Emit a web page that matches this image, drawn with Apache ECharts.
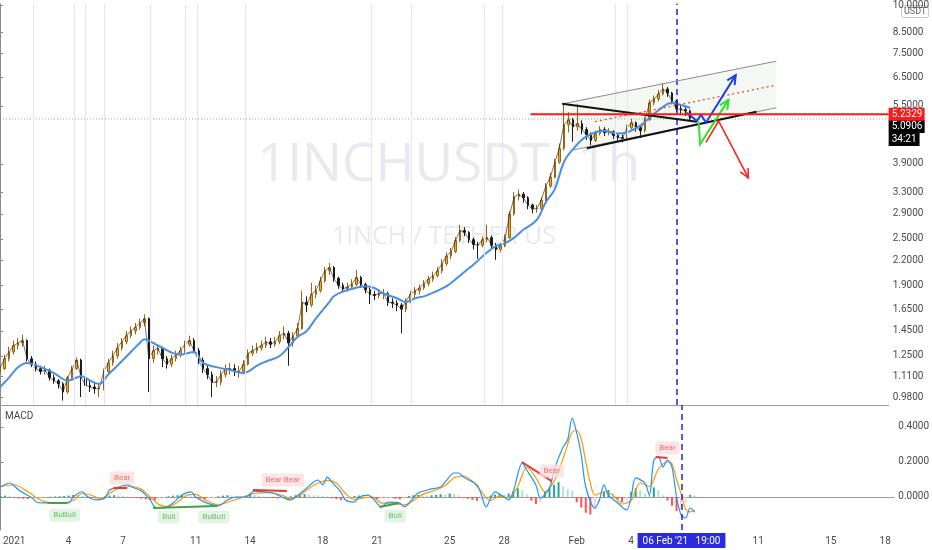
<!DOCTYPE html>
<html lang="en">
<head>
<meta charset="UTF-8">
<title>1INCHUSDT 1h</title>
<script src="https://cdn.jsdelivr.net/npm/echarts@6/dist/echarts.min.js"></script>
<style>
  html, body { margin: 0; padding: 0; background: #fff; }
  #chart { width: 932px; height: 550px; }
</style>
</head>
<body>
<div id="chart"></div>
<script>
// 6h candles, first one is 31 Dec 2020 06:00
const firstOpen = 1.13;
const closes = [1.16,1.23,1.28,1.33,1.35,1.37,1.23,1.19,1.16,1.14,
  1.15,1.10,1.08,1.06,1.01,1.10,1.16,1.22,1.10,1.05,
  1.04,1.03,1.03,1.14,1.20,1.25,1.31,1.36,1.41,1.45,
  1.48,1.52,1.56,1.23,1.29,1.31,1.23,1.19,1.23,1.26,
  1.29,1.34,1.37,1.29,1.22,1.16,1.12,1.07,1.07,1.12,
  1.16,1.16,1.14,1.14,1.19,1.27,1.29,1.31,1.33,1.36,
  1.34,1.36,1.41,1.43,1.35,1.41,1.47,1.72,1.69,1.80,
  1.84,1.95,2.07,2.11,1.98,1.90,1.86,1.88,1.91,1.99,
  1.91,1.85,1.80,1.79,1.81,1.81,1.72,1.71,1.69,1.65,
  1.73,1.80,1.84,1.87,1.92,1.97,2.01,2.07,2.16,2.26,
  2.32,2.48,2.63,2.60,2.49,2.42,2.41,2.49,2.52,2.41,
  2.35,2.40,2.52,2.90,3.21,3.26,3.19,3.06,2.99,2.99,
  3.15,3.42,3.61,3.94,4.28,4.92,5.07,4.86,4.95,4.78,
  4.64,4.48,4.67,4.78,4.70,4.72,4.62,4.56,4.54,4.83,
  4.98,4.83,4.75,5.07,5.60,5.73,5.90,6.08,5.94,5.66,
  5.41,5.38,5.34,5.0906];
const highs = [1.19,1.26,1.32,1.37,1.39,1.42,1.38,1.25,1.21,1.18,
  1.18,1.16,1.12,1.09,1.07,1.11,1.18,1.24,1.23,1.12,
  1.08,1.07,1.06,1.16,1.23,1.29,1.35,1.39,1.45,1.49,
  1.52,1.56,1.60,1.57,1.33,1.34,1.32,1.25,1.26,1.29,
  1.32,1.37,1.41,1.39,1.31,1.24,1.18,1.14,1.11,1.15,
  1.19,1.20,1.19,1.18,1.22,1.30,1.33,1.35,1.37,1.40,
  1.39,1.40,1.45,1.49,1.45,1.44,1.52,1.84,1.78,1.93,
  1.90,2.00,2.12,2.17,2.13,2.00,1.93,1.93,1.97,2.08,
  2.01,1.93,1.87,1.84,1.86,1.86,1.83,1.76,1.74,1.71,
  1.76,1.84,1.88,1.91,1.96,2.01,2.06,2.12,2.22,2.31,
  2.37,2.53,2.72,2.68,2.62,2.52,2.46,2.54,2.72,2.55,
  2.44,2.44,2.57,2.95,3.30,3.35,3.30,3.22,3.08,3.06,
  3.20,3.48,3.70,4.02,4.40,5.55,5.30,5.12,5.55,5.05,
  4.85,4.70,4.75,4.88,4.85,4.82,4.76,4.68,4.64,4.92,
  5.10,5.02,4.90,5.15,5.70,5.85,6.05,6.30,6.15,5.98,
  5.70,5.52,5.46,5.38];
const lows = [1.12,1.15,1.21,1.26,1.30,1.32,1.21,1.17,1.14,1.12,
  1.12,1.08,1.06,1.03,0.96,1.00,1.09,1.15,0.98,1.02,
  1.01,1.00,0.98,1.02,1.12,1.18,1.23,1.29,1.34,1.39,
  1.42,1.46,1.49,1.01,1.20,1.26,1.17,1.16,1.17,1.21,
  1.24,1.27,1.32,1.27,1.19,1.13,1.09,0.98,1.04,1.05,
  1.10,1.12,1.11,1.10,1.12,1.18,1.25,1.27,1.29,1.31,
  1.31,1.32,1.34,1.38,1.18,1.32,1.39,1.46,1.62,1.67,
  1.76,1.82,1.93,2.02,1.94,1.86,1.82,1.83,1.86,1.89,
  1.87,1.81,1.70,1.74,1.76,1.75,1.68,1.66,1.63,1.43,
  1.62,1.71,1.77,1.80,1.85,1.89,1.94,1.99,2.04,2.13,
  2.22,2.30,2.45,2.54,2.44,2.35,2.22,2.38,2.45,2.36,
  2.21,2.31,2.38,2.50,2.87,3.14,3.10,2.98,2.91,2.92,
  2.96,3.12,3.38,3.58,3.90,4.22,4.70,4.45,4.75,4.65,
  4.50,4.36,4.44,4.62,4.60,4.62,4.52,4.46,4.43,4.50,
  4.78,4.72,4.55,4.70,5.02,5.52,5.65,5.85,5.80,5.55,
  5.30,5.24,5.18,5.02];

// blue moving average, [candle index, price]
const maLine = [[0,1.04],[2,1.10],[4,1.17],[6,1.20],[9,1.17],[12,1.13],[15,1.08],[17,1.10],[18,1.11],
  [20,1.08],[22,1.06],[24,1.12],[26,1.18],[29,1.28],[31,1.35],[32,1.38],[34,1.35],[35,1.33],
  [40,1.26],[43,1.28],[45,1.20],[48,1.17],[51,1.15],[54,1.13],[55,1.14],[57,1.18],[59,1.21],
  [62,1.25],[64,1.32],[66,1.40],[68,1.45],[70,1.56],[73,1.72],[74,1.78],[76,1.83],[78,1.86],
  [81,1.89],[83,1.87],[85,1.81],[88,1.76],[90,1.72],[92,1.76],[94,1.78],[97,1.84],[99,1.89],
  [101,1.97],[103,2.06],[105,2.15],[108,2.31],[110,2.40],[112,2.44],[114,2.52],[116,2.64],
  [119,2.80],[121,3.11],[123,3.36],[125,3.94],[127,4.25],[130,4.59],[134,4.75],[137,4.67],
  [139,4.70],[142,4.90],[144,5.13],[147,5.47],[149,5.60],[151,5.53],[153,5.44]];

const macdLine = [[0,0.057],[2,0.08],[4,0.04],[7,-0.006],[8,-0.03],[10,-0.034],[15,-0.034],[16,0],
  [18,0.03],[19,0.005],[21,-0.017],[23,-0.006],[24,0.04],[26,0.057],[28,0.069],[29,0.057],[31,0.034],
  [33,-0.017],[34,-0.057],[36,-0.063],[38,-0.034],[40,0.011],[42,0.029],[43,0],[45,-0.029],[48,-0.051],
  [50,-0.017],[52,0],[54,0],[56,0.034],[58,0.029],[60,0.023],[62,0],[64,-0.017],[65,0],[67,0.04],
  [69,0.086],[70,0.097],[71,0.069],[72,0.114],[73,0.086],[75,0.029],[76,-0.017],[78,-0.029],[79,0],
  [81,0.011],[82,-0.006],[84,-0.057],[85,-0.034],[86,-0.029],[88,-0.034],[89,-0.057],[91,-0.006],
  [92,0.023],[95,0.046],[97,0.057],[98,0.086],[100,0.137],[101,0.137],[102,0.114],[105,0.069],
  [106,0.011],[107,-0.057],[109,0.029],[111,0],[112,-0.017],[113,0.029],[115,0.194],[116,0.154],
  [118,0.069],[119,-0.006],[121,0.051],[122,0.154],[124,0.286],[125,0.326],[126,0.451],[127,0.366],
  [128,0.24],[129,0.057],[131,-0.063],[132,-0.017],[133,0.069],[134,0.011],[136,-0.034],[138,-0.074],
  [139,0],[140,0.109],[142,0.08],[143,0.011],[144,0.211],[145,0.229],[146,0.171],[147,0.211],
  [148,0.171],[149,0],[150,-0.103],[151,-0.12],[152,-0.063],[153,-0.086]];
const signalLine = [[0,0.06],[3,0.07],[6,0.03],[9,-0.02],[13,-0.035],[16,-0.02],[18,0.02],[20,0.01],
  [22,-0.01],[24,0.02],[26,0.05],[29,0.06],[31,0.045],[33,0],[35,-0.045],[37,-0.055],[39,-0.03],
  [41,0.01],[43,0.015],[45,-0.015],[48,-0.045],[50,-0.03],[53,-0.005],[56,0.02],[59,0.025],[62,0.01],
  [64,-0.01],[66,0.01],[68,0.05],[70,0.08],[72,0.095],[74,0.08],[76,0.02],[78,-0.015],[80,-0.005],
  [82,0],[84,-0.035],[86,-0.035],[89,-0.045],[91,-0.02],[93,0.015],[96,0.04],[98,0.065],[100,0.11],
  [102,0.12],[104,0.09],[106,0.03],[108,-0.02],[110,0.005],[112,-0.005],[114,0.06],[116,0.17],
  [118,0.11],[120,0.03],[122,0.09],[124,0.22],[125,0.30],[126,0.37],[127,0.38],[128,0.33],[129,0.2],
  [130,0.08],[131,0.01],[133,0.03],[135,0.01],[137,-0.04],[139,-0.02],[141,0.08],[143,0.06],
  [145,0.16],[147,0.2],[148,0.19],[149,0.1],[150,0.02],[151,-0.07],[152,-0.085],[153,-0.075]];
const histogram = [0.005,0.008,0.006,-0.004,-0.008,-0.010,-0.012,-0.008,-0.006,-0.004,
  -0.003,0.002,0.003,0.004,0.006,0.008,0.012,0.010,0.006,-0.004,
  -0.006,-0.008,-0.004,0.003,0.008,0.010,0.008,0.006,0.004,-0.003,
  -0.006,-0.010,-0.014,-0.016,-0.018,-0.012,-0.006,0.004,0.008,0.010,
  0.012,0.008,0.004,-0.006,-0.010,-0.012,-0.010,-0.006,0.004,0.008,
  0.010,0.008,0.006,0.005,0.008,0.012,0.010,0.006,0.004,-0.004,
  -0.006,-0.008,-0.006,-0.004,0.004,0.010,0.014,0.016,0.014,0.010,
  0.008,0.006,0.004,-0.008,-0.012,-0.018,-0.014,-0.010,0.006,0.008,
  0.006,-0.006,-0.010,-0.012,-0.010,-0.008,-0.006,-0.010,-0.014,-0.012,
  0.006,0.010,0.012,0.010,0.008,0.010,0.012,0.016,0.014,0.020,
  0.016,0.010,-0.006,-0.010,-0.016,-0.022,-0.018,-0.010,0.008,0.014,
  0.018,0.012,0.020,0.030,0.050,0.040,0.016,-0.020,-0.040,-0.030,
  0.030,0.055,0.070,0.085,0.060,0.045,0.035,-0.030,-0.060,-0.090,
  -0.100,-0.070,-0.030,0.030,0.040,0.020,-0.015,-0.030,-0.020,0.030,
  0.050,0.040,0.020,0.010,0.055,0.040,0.010,-0.020,-0.050,-0.080,
  -0.070,-0.030,0.012,0.008];

const priceTicks = [0.98,1.11,1.25,1.45,1.65,1.9,2.2,2.5,2.9,3.3,3.9,5.5,6.5,7.5,8.5,10];
const macdTicks = [0, 0.2, 0.4];
const dayTickIdx = [3,15,27,43,55,71,83,99,111,127,139,167,183,195];
const dayTickText = ['2021','4','7','11','14','18','21','25','28','Feb','4','11','15','18'];
const sessionLines = [7.3,16.5,18.9,23.1,33.2,41.1,43.7,54.3,82.4,91.2,107.3,111.4,136.5,139.1];
const lastPrice = 5.0906;
const levelPrice = 5.2329;
const levelStart = 117.6;
const cursorIdx = 150.1;

// hand drawn tools on the price pane, [candle index, price]
const channelUpper = [[124.8,5.57],[172.1,7.17]];
const channelLower = [[126.8,4.23],[172.1,5.44]];
const channelMid = [[131.9,5.01],[172.1,6.22]];
const wedgeTop = [[124.6,5.57],[154.5,5.01]];
const wedgeBottom = [[130.1,4.28],[167.7,5.31]];
const blueArrow = [[152.3,5.28],[154.5,5.03],[155.4,5.22],[156.5,4.98],[163.1,6.60]];
const greenArrow = [[154.9,5.01],[155.2,4.38],[161.5,5.70]];
const redArrow = [[156.5,4.43],[159.3,5.03],[165.9,3.59]];

// divergences on the MACD pane
const bullDivs = [[[10.3,-0.034],[14.7,-0.034]],[[33.6,-0.063],[47.7,-0.051]],[[83.5,-0.057],[87.9,-0.034]]];
const bearDivs = [[[24.8,0.051],[27.9,0.051]],[[55.6,0.040],[63.1,0.034]],[[114.9,0.200],[121.5,0.091]],[[144.4,0.229],[147.0,0.223]]];
const bullTags = [[14.1,-0.103,'BuBull'],[37.1,-0.114,'Bull'],[47.0,-0.114,'BuBull'],[87.0,-0.109,'Bull']];
const bearTags = [[26.8,0.109,'Bear'],[62.2,0.097,'Bear Bear'],[121.5,0.149,'Bear'],[147.0,0.28,'Bear']];

const nCats = 198;
const cats = [];
for (let k = 0; k < nCats; k++) cats.push(String(k));
const candleData = closes.map((c, k) => [k === 0 ? firstOpen : closes[k - 1], c, lows[k], highs[k]]);
const closeLine = closes.map((c, k) => [k, c]);

const chart = echarts.init(document.getElementById('chart'));
const font = 'Roboto, "Noto Sans", sans-serif';

function drawingSeries(items, xi, yi, z) {
    return {
        type: 'custom', xAxisIndex: xi, yAxisIndex: yi, silent: true, z: z,
        clip: true,
        data: items.map((d, k) => [k]),
        renderItem: function (params, api) {
            const d = items[params.dataIndex];
            const pts = d.pts.map(p => api.coord(p));
            if (d.fill) {
                return { type: 'polygon', shape: { points: pts }, style: { fill: d.fill } };
            }
            const kids = [{
                type: 'polyline', shape: { points: pts },
                style: { stroke: d.color, lineWidth: d.width, lineDash: d.dash || null, fill: 'none' }
            }];
            if (d.arrow) {
                const a = pts[pts.length - 2], b = pts[pts.length - 1];
                const ang = Math.atan2(b[1] - a[1], b[0] - a[0]);
                const L = 10, s = 0.45;
                kids.push({
                    type: 'polyline',
                    shape: { points: [
                        [b[0] - L * Math.cos(ang - s), b[1] - L * Math.sin(ang - s)], b,
                        [b[0] - L * Math.cos(ang + s), b[1] - L * Math.sin(ang + s)]] },
                    style: { stroke: d.color, lineWidth: d.width, fill: 'none' }
                });
            }
            return { type: 'group', children: kids };
        }
    };
}

const priceFill = [{ pts: [channelUpper[0], channelUpper[1], channelLower[1], channelLower[0]], fill: 'rgba(226,237,222,0.4)' }];
const priceTools = [
    { pts: channelUpper, color: '#8c8c8c', width: 1 },
    { pts: channelLower, color: '#8c8c8c', width: 1 },
    { pts: channelMid, color: '#f44336', width: 1.3, dash: [2, 3] },
    { pts: wedgeTop, color: '#111', width: 2 },
    { pts: wedgeBottom, color: '#111', width: 2 },
    { pts: blueArrow, color: '#1f3fe0', width: 2, arrow: true },
    { pts: greenArrow, color: '#2fe02f', width: 2, arrow: true },
    { pts: redArrow, color: '#f22', width: 1.6, arrow: true }
];
const macdTools = bullDivs.map(p => ({ pts: p, color: '#43a047', width: 2 }))
    .concat(bearDivs.map(p => ({ pts: p, color: '#e53935', width: 2 })));

const axisText = { color: '#4a4a4a', fontSize: 10, fontFamily: font };

chart.setOption({
    animation: false,
    backgroundColor: '#fff',
    textStyle: { fontFamily: font },
    graphic: [
        { type: 'text', left: 257, top: 139, z: 0, silent: true,
          style: { text: '1INCHUSDT, 1h', fill: '#e9e9ee', fontSize: 53, fontFamily: '"Open Sans", sans-serif' } },
        { type: 'text', left: 332, top: 224, z: 0, silent: true,
          style: { text: '1INCH / TETHER US', fill: '#e9e9ee', fontSize: 25, fontFamily: '"Open Sans", sans-serif' } },
        { type: 'text', left: 5, top: 411, silent: true,
          style: { text: 'MACD', fill: '#444', fontSize: 10, fontFamily: font } },
        { type: 'rect', left: 901, top: 5, silent: true, shape: { width: 27, height: 12, r: 2 },
          style: { fill: '#fff', stroke: '#c8c8c8', lineWidth: 1 } },
        { type: 'text', left: 904, top: 7, silent: true,
          style: { text: 'USDT', fill: '#666', fontSize: 9, fontFamily: font } }
    ],
    grid: [
        { left: 0, right: 36, top: 0, height: 405 },
        { left: 0, right: 36, top: 405, height: 125 }
    ],
    xAxis: [
        { type: 'category', gridIndex: 0, data: cats, boundaryGap: false,
          axisLine: { lineStyle: { color: '#9a9a9a' } }, axisTick: { show: false },
          axisLabel: { show: false }, splitLine: { show: false } },
        { type: 'category', gridIndex: 1, data: cats, boundaryGap: false,
          axisLine: { lineStyle: { color: '#9a9a9a' } }, axisTick: { show: false },
          axisLabel: Object.assign({
              interval: idx => dayTickIdx.includes(idx),
              formatter: (v, idx) => dayTickText[dayTickIdx.indexOf(idx)],
              margin: 6
          }, axisText),
          splitLine: { show: false } },
        { type: 'value', gridIndex: 0, min: 0, max: nCats - 1, show: false },
        { type: 'value', gridIndex: 1, min: 0, max: nCats - 1, show: false }
    ],
    yAxis: [
        { type: 'log', gridIndex: 0, position: 'right', min: 0.935, max: 10.07,
          splitLine: { show: false },
          axisLine: { show: true, lineStyle: { color: '#8a8a8a' } },
          axisTick: { show: true, length: 3, customValues: priceTicks, lineStyle: { color: '#8a8a8a' } },
          axisLabel: Object.assign({ customValues: priceTicks, margin: 4,
              formatter: v => Number(v).toFixed(4) }, axisText) },
        { type: 'value', gridIndex: 1, position: 'right', min: -0.1886, max: 0.5257,
          splitLine: { show: false },
          axisLine: { show: true, lineStyle: { color: '#8a8a8a' } },
          axisTick: { show: true, length: 3, customValues: macdTicks, lineStyle: { color: '#8a8a8a' } },
          axisLabel: Object.assign({ customValues: macdTicks, margin: 4,
              formatter: v => Number(v).toFixed(4) }, axisText) }
    ],
    series: [
        Object.assign(drawingSeries(priceFill, 2, 0, 1), { name: 'channel fill' }),
        {
            name: 'sessions', type: 'line', xAxisIndex: 2, yAxisIndex: 0, data: [], silent: true, z: 1,
            markLine: {
                silent: true, symbol: 'none', label: { show: false },
                lineStyle: { color: '#e2e2fa', width: 1, type: 'solid' },
                data: sessionLines.map(v => ({ xAxis: v }))
            }
        },
        {
            name: '1INCHUSDT', type: 'candlestick', xAxisIndex: 0, yAxisIndex: 0,
            data: candleData, barWidth: 2, z: 2,
            itemStyle: { color: '#f5a623', color0: '#1c1c1c', borderColor: '#9c6410', borderColor0: '#1c1c1c', borderWidth: 1 }
        },
        {
            name: 'fast', type: 'line', xAxisIndex: 2, yAxisIndex: 0, data: closeLine,
            symbol: 'none', lineStyle: { color: '#1a1a1a', width: 1, opacity: 0.6 }, z: 3
        },
        {
            name: 'MA', type: 'line', xAxisIndex: 2, yAxisIndex: 0, data: maLine, smooth: 0.4,
            symbol: 'none', lineStyle: { color: '#4a8fe0', width: 2 }, z: 4,
            markLine: {
                silent: true, symbol: 'none', label: { show: false },
                lineStyle: { color: '#2424d8', width: 1.5, type: [6, 4] },
                data: [{ xAxis: cursorIdx }]
            }
        },
        {
            name: 'last', type: 'line', xAxisIndex: 2, yAxisIndex: 0,
            data: [[0, lastPrice], [nCats - 1, lastPrice]], symbol: 'none', z: 3,
            lineStyle: { color: '#9a9a9a', width: 1, type: [1, 2] },
            endLabel: {
                show: true, distance: 0, verticalAlign: 'top', offset: [0, 1],
                formatter: '{a|' + lastPrice.toFixed(4) + '}\n{b|34:21}',
                rich: {
                    a: { backgroundColor: '#000', color: '#fff', fontSize: 10, padding: [2, 3, 1, 3], width: 30, fontFamily: font },
                    b: { backgroundColor: '#000', color: '#fff', fontSize: 10, padding: [2, 3, 1, 3], fontFamily: font }
                }
            }
        },
        {
            name: 'level', type: 'line', xAxisIndex: 2, yAxisIndex: 0,
            data: [[levelStart, levelPrice], [nCats - 1, levelPrice]], symbol: 'none', z: 6,
            lineStyle: { color: '#ff1a1a', width: 2 },
            endLabel: {
                show: true, distance: 0, formatter: levelPrice.toFixed(4),
                backgroundColor: '#ff1a1a', color: '#fff', fontSize: 10, padding: [2, 3, 1, 3],
                width: 30, fontFamily: font
            }
        },
        Object.assign(drawingSeries(priceTools, 2, 0, 5), { name: 'tools' }),
        {
            name: 'hist', type: 'bar', xAxisIndex: 1, yAxisIndex: 1, data: histogram, barWidth: 2,
            itemStyle: {
                color: p => {
                    const v = histogram[p.dataIndex];
                    const pv = p.dataIndex > 0 ? histogram[p.dataIndex - 1] : 0;
                    if (v >= 0) return v >= pv ? '#26a69a' : '#b2dfdb';
                    return v < pv ? '#ff5252' : '#ffcdd2';
                }
            }
        },
        {
            name: 'signal', type: 'line', xAxisIndex: 3, yAxisIndex: 1, data: signalLine, smooth: 0.3,
            symbol: 'none', lineStyle: { color: '#ff9800', width: 1.2 }, z: 3
        },
        {
            name: 'MACD', type: 'line', xAxisIndex: 3, yAxisIndex: 1, data: macdLine, smooth: 0.3,
            symbol: 'none', lineStyle: { color: '#2196f3', width: 1.2 }, z: 4,
            markLine: {
                silent: true, symbol: 'none',
                lineStyle: { color: '#2424d8', width: 1.5, type: [6, 4] },
                label: {
                    show: true, position: 'start', distance: 3,
                    formatter: "06 Feb '21   19:00",
                    backgroundColor: '#2a2ae0', color: '#fff', fontSize: 10, padding: [3, 5, 2, 5],
                    fontFamily: font
                },
                data: [{ xAxis: cursorIdx }]
            }
        },
        Object.assign(drawingSeries(macdTools, 3, 1, 5), { name: 'divergences' }),
        {
            name: 'bull', type: 'scatter', xAxisIndex: 3, yAxisIndex: 1, data: bullTags, symbolSize: 0, z: 6,
            silent: true,
            label: { show: true, position: 'inside', formatter: p => p.value[2], color: '#4caf50',
                backgroundColor: '#dcf1dd', padding: [3, 4, 2, 4], fontSize: 8, borderRadius: 2 }
        },
        {
            name: 'bear', type: 'scatter', xAxisIndex: 3, yAxisIndex: 1, data: bearTags, symbolSize: 0, z: 6,
            silent: true,
            label: { show: true, position: 'inside', formatter: p => p.value[2], color: '#f05050',
                backgroundColor: '#fcdede', padding: [3, 4, 2, 4], fontSize: 8, borderRadius: 2 }
        }
    ]
});
</script>
</body>
</html>
